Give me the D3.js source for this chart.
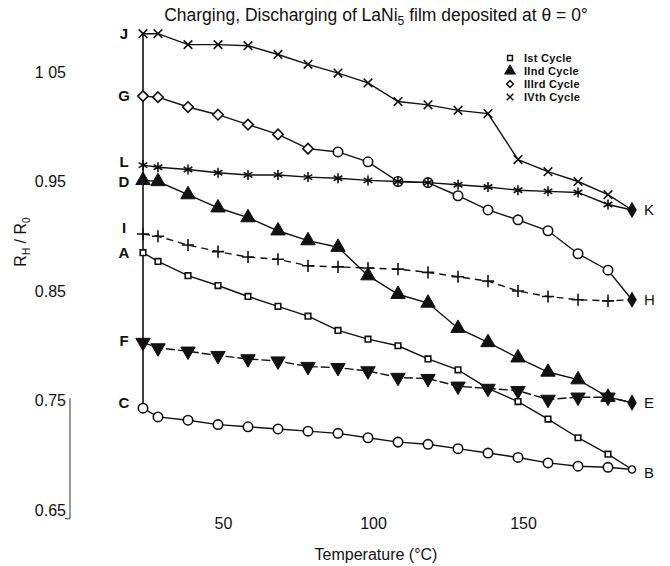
<!DOCTYPE html>
<html>
<head>
<meta charset="utf-8">
<script src="https://cdn.jsdelivr.net/npm/d3@7"></script>
<style>
  body { margin: 0; background: #fff; }
  text { font-family: "Liberation Sans", Arial, Helvetica, sans-serif; fill: #111; }
</style>
</head>
<body>
<div id="chart"></div>
<script>
// temperatures of the measured points (deg C), last one is the end point (B, E, H, K)
const tempC = [25, 30, 40, 50, 60, 70, 80, 90, 100, 110, 120, 130, 140, 150, 160, 170, 180, 188];

// R_H / R_0, one value per temperature
const cycle1Heat = [0.885, 0.877, 0.864, 0.855, 0.845, 0.836, 0.827, 0.814, 0.806, 0.800, 0.788, 0.778, 0.761, 0.749, 0.733, 0.716, 0.701, 0.687]; // A -> B
const cycle1Cool = [0.743, 0.735, 0.732, 0.728, 0.726, 0.724, 0.722, 0.720, 0.716, 0.712, 0.710, 0.706, 0.702, 0.698, 0.693, 0.690, 0.689, 0.687]; // B -> C
const cycle2Heat = [0.951, 0.950, 0.938, 0.926, 0.917, 0.905, 0.896, 0.890, 0.864, 0.847, 0.839, 0.816, 0.803, 0.789, 0.776, 0.769, 0.753, 0.748]; // D -> E
const cycle2Cool = [0.803, 0.798, 0.795, 0.791, 0.788, 0.786, 0.781, 0.780, 0.777, 0.771, 0.770, 0.763, 0.761, 0.759, 0.751, 0.753, 0.753, 0.748]; // E -> F
const cycle3Heat = [1.028, 1.027, 1.018, 1.011, 1.002, 0.993, 0.980, 0.977, 0.968, 0.950, 0.949, 0.937, 0.924, 0.915, 0.905, 0.884, 0.869, 0.842]; // G -> H
const cycle3Cool = [0.902, 0.900, 0.892, 0.886, 0.881, 0.879, 0.873, 0.872, 0.871, 0.870, 0.867, 0.863, 0.859, 0.850, 0.845, 0.842, 0.841, 0.842]; // H -> I
const cycle4Heat = [1.085, 1.085, 1.075, 1.075, 1.074, 1.066, 1.057, 1.049, 1.040, 1.023, 1.020, 1.015, 1.012, 0.970, 0.959, 0.950, 0.938, 0.924]; // J -> K
const cycle4Cool = [0.965, 0.963, 0.961, 0.958, 0.956, 0.956, 0.954, 0.953, 0.951, 0.950, 0.949, 0.947, 0.945, 0.942, 0.941, 0.940, 0.929, 0.924]; // K -> L

const yTicks = [0.65, 0.75, 0.85, 0.95, 1.05];
const yTickLabels = ['0.65', '0.75', '0.85', '0.95', '1 05'];
const xTicks = [50, 100, 150];

const startLabels = ['J', 'G', 'L', 'D', 'I', 'A', 'F', 'C'];
const startValues = [cycle4Heat[0], cycle3Heat[0], cycle4Cool[0], cycle2Heat[0], cycle3Cool[0], cycle1Heat[0], cycle2Cool[0], cycle1Cool[0]];
const endLabels = ['K', 'H', 'E', 'B'];
const endValues = [cycle4Heat[17], cycle3Heat[17], cycle2Heat[17], cycle1Heat[17]];

const legendLabels = ['Ist Cycle', 'IInd Cycle', 'IIIrd Cycle', 'IVth Cycle'];

let width = 670;
let height = 566;

let x = d3.scaleLinear().domain([50, 150]).range([218, 518]);
let y = d3.scaleLinear().domain([0.65, 1.05]).range([510, 72]);

const svg = d3.select('#chart')
    .append('svg')
    .attr('width', width)
    .attr('height', height);

// title
const title = svg.append('text')
    .attr('x', 376)
    .attr('y', 21)
    .attr('text-anchor', 'middle')
    .style('font-size', '17.5px');
title.append('tspan').text('Charging, Discharging of LaNi');
title.append('tspan').attr('dy', 4).style('font-size', '12px').text('5');
title.append('tspan').attr('dy', -4).text(' film deposited at \u03b8 = 0\u00b0');

// y axis labels (no axis line except the short piece near the bottom)
let yAxis = (g) => g
    .attr('transform', 'translate(70,0)')
    .call(d3.axisLeft(y).tickValues(yTicks).tickSize(0).tickPadding(4)
        .tickFormat((d, i) => yTickLabels[i]))
    .call(g => g.select('.domain').remove());

svg.append('g').call(yAxis)
    .selectAll('text')
    .style('font-size', '16px')
    .style('fill', '#111');

svg.append('line')
    .attr('x1', 70).attr('x2', 70)
    .attr('y1', y(0.752)).attr('y2', y(0.642))
    .attr('stroke', '#333').attr('stroke-width', 1);
svg.append('line')
    .attr('x1', 65).attr('x2', 70)
    .attr('y1', y(0.642)).attr('y2', y(0.642))
    .attr('stroke', '#333').attr('stroke-width', 1);

let xAxis = (g) => g
    .attr('transform', 'translate(5,515)')
    .call(d3.axisBottom(x).tickValues(xTicks).tickSize(0).tickPadding(3))
    .call(g => g.select('.domain').remove());

svg.append('g').call(xAxis)
    .selectAll('text')
    .style('font-size', '16px')
    .style('fill', '#111');

svg.append('text')
    .attr('x', 376)
    .attr('y', 560)
    .attr('text-anchor', 'middle')
    .style('font-size', '16px')
    .text('Temperature (\u00b0C)');

const yl = svg.append('text')
    .attr('transform', 'translate(26,242) rotate(-90)')
    .attr('text-anchor', 'middle')
    .style('font-size', '16px')
    .style('fill', '#111');
yl.append('tspan').style('fill', '#111').text('R');
yl.append('tspan').attr('dy', 4).style('font-size', '10px').style('fill', '#111').text('H');
yl.append('tspan').attr('dy', -4).style('fill', '#111').text(' / R');
yl.append('tspan').attr('dy', 4).style('font-size', '10px').style('fill', '#111').text('0');

// vertical line joining the room temperature points (charging)
svg.append('line')
    .attr('x1', x(25)).attr('x2', x(25))
    .attr('y1', y(d3.max(startValues))).attr('y2', y(d3.min(startValues)))
    .attr('stroke', '#111').attr('stroke-width', 1.6);

const line = d3.line()
    .x(d => x(d[0]))
    .y(d => y(d[1]));

// third cycle: diamonds on the left part, rounder marks further right (as printed)
const series = [
    { values: cycle1Heat, dash: null, shape: () => d3.symbolSquare2, size: 40, fill: 'none' },
    { values: cycle1Cool, dash: null, shape: () => d3.symbolCircle, size: 70, fill: 'none' },
    { values: cycle2Cool, dash: '9,3', shape: () => d3.symbolTriangle, size: 90, fill: '#111', flip: true },
    { values: cycle2Heat, dash: null, shape: () => d3.symbolTriangle, size: 90, fill: '#111' },
    { values: cycle3Cool, dash: '7,5', shape: () => d3.symbolPlus, size: 50, fill: 'none' },
    { values: cycle3Heat, dash: null, shape: d => d[0] < 85 ? d3.symbolDiamond2 : d3.symbolCircle, size: 70, fill: 'none' },
    { values: cycle4Cool, dash: null, shape: () => d3.symbolAsterisk, size: 70, fill: 'none' },
    { values: cycle4Heat, dash: null, shape: () => d3.symbolTimes, size: 50, fill: 'none' }
];

series.forEach(s => {
    const pts = tempC.map((t, i) => [t, s.values[i]]);
    svg.append('path')
        .datum(pts)
        .attr('fill', 'none')
        .attr('stroke', '#111')
        .attr('stroke-width', 1.4)
        .attr('stroke-dasharray', s.dash)
        .attr('d', line);

    svg.append('g')
        .selectAll('path')
        .data(pts.slice(0, 17))
        .join('path')
        .attr('transform', d => `translate(${x(d[0])},${y(d[1])})` + (s.flip ? ' rotate(180)' : ''))
        .attr('d', d => d3.symbol().type(s.shape(d)).size(s.size)())
        .attr('fill', s.fill === 'none' ? '#fff' : s.fill)
        .attr('stroke', '#111')
        .attr('stroke-width', s.fill === 'none' ? 1.6 : 1);
});

// filled diamond at 180 on the second cycle and at the end points
svg.append('g')
    .selectAll('path')
    .data([[180, cycle2Heat[16]], [188, cycle2Heat[17]], [188, cycle3Heat[17]], [188, cycle4Heat[17]]])
    .join('path')
    .attr('transform', d => `translate(${x(d[0])},${y(d[1])})`)
    .attr('d', d3.symbol().type(d3.symbolDiamond).size(80))
    .attr('fill', '#111');

// end point B
svg.append('path')
    .attr('transform', `translate(${x(188)},${y(cycle1Heat[17])})`)
    .attr('d', d3.symbol().type(d3.symbolCircle).size(40))
    .attr('fill', '#fff')
    .attr('stroke', '#111')
    .attr('stroke-width', 1.4);

// letters at the start of each branch
const startDy = [0, 0, -3, 1, -6, 0, -2, -5];
svg.append('g')
    .selectAll('text')
    .data(startLabels)
    .join('text')
    .attr('x', 124)
    .attr('y', (d, i) => y(startValues[i]) + startDy[i])
    .attr('dy', '0.35em')
    .attr('text-anchor', 'middle')
    .style('font-size', '15px')
    .style('font-weight', 'bold')
    .text(d => d);

svg.append('g')
    .selectAll('text')
    .data(endLabels)
    .join('text')
    .attr('x', 644)
    .attr('y', (d, i) => y(endValues[i]) + (i === 3 ? 3 : 0))
    .attr('dy', '0.35em')
    .style('font-size', '15px')
    .text(d => d);

// legend
const legendShapes = [d3.symbolSquare2, d3.symbolTriangle, d3.symbolDiamond2, d3.symbolTimes];
const legend = svg.append('g').attr('transform', 'translate(510,58)');
legendLabels.forEach((lab, i) => {
    legend.append('path')
        .attr('transform', `translate(0,${i * 13})`)
        .attr('d', d3.symbol().type(legendShapes[i]).size(i === 1 ? 50 : 30))
        .attr('fill', i === 1 ? '#111' : '#fff')
        .attr('stroke', '#111')
        .attr('stroke-width', i === 1 ? 1 : 1.5);
    legend.append('text')
        .attr('x', 14)
        .attr('y', i * 13)
        .attr('dy', '0.35em')
        .style('font-size', '11px')
        .style('font-weight', 'bold')
        .style('letter-spacing', '0.3px')
        .text(lab);
});
</script>
</body>
</html>
